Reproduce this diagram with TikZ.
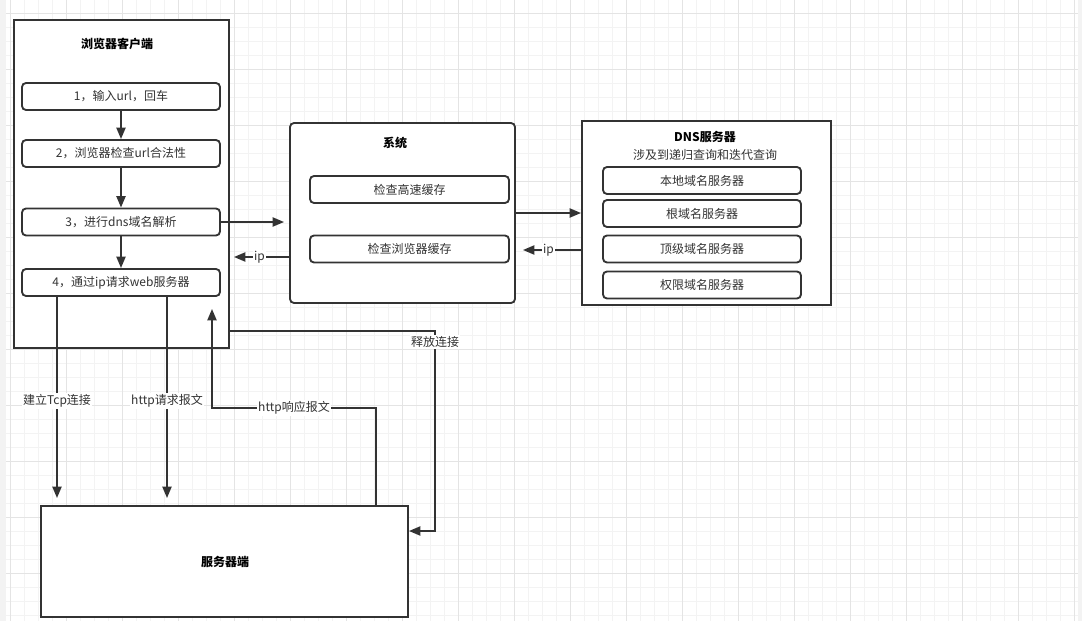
\documentclass[tikz,border=0pt]{standalone}
\usepackage{fontspec}
\setmainfont{Noto Sans CJK SC}
\usetikzlibrary{arrows.meta}
\definecolor{ln}{HTML}{333333}
\definecolor{gridminor}{HTML}{F3F3F3}
\definecolor{gridmajor}{HTML}{E4E4E4}

\begin{document}
\begin{tikzpicture}[x=0.75pt,y=-0.75pt,
  every node/.style={font=\fontsize{9pt}{11pt}\selectfont,text=ln},
  frame/.style={draw=ln,line width=1.4pt,fill=white,inner sep=0pt},
  stepbox/.style={frame,rounded corners=3pt,minimum width=148.5pt,minimum height=20.25pt},
  ttl/.style={font=\fontsize{9pt}{11pt}\selectfont\bfseries,text=black},
  lbl/.style={fill=white,inner sep=1pt},
  arr/.style={draw=ln,line width=1.4pt,-{Triangle[length=8.5pt,width=6.75pt]}}]
\useasboundingbox (0,0) rectangle (1082,621);
\fill[white] (0,0) rectangle (1082,621);
% grid
\foreach \i in {0,...,76} \draw[gridminor,line width=0.75pt] ({10.7+14*\i},0) -- ++(0,621);
\foreach \i in {0,...,43} \draw[gridminor,line width=0.75pt] (0,{13.3+14*\i}) -- ++(1082,0);
\foreach \i in {0,...,19} \draw[gridmajor,line width=0.75pt] ({10.7+56*\i},0) -- ++(0,621);
\foreach \i in {0,...,11} \draw[gridmajor,line width=0.75pt] (0,{13.3+56*\i}) -- ++(1082,0);
\fill[gridminor] (0,0) rectangle (6,621);
\fill[gridminor] (1078,0) rectangle (1082,621);

% browser
\node[frame,minimum width=161.25pt,minimum height=246pt] (browser) at (121.5,184) {};
\node[ttl] (browsertitle) at (117,44) {浏览器客户端};
\node[stepbox] (s1) at (121,96.5) {1，输入url，回车};
\node[stepbox] (s2) at (121,153.5) {2，浏览器检查url合法性};
\node[stepbox] (s3) at (121,222) {3，进行dns域名解析};
\node[stepbox] (s4) at (121,282.5) {4，通过ip请求web服务器};

% system
\node[frame,rounded corners=3pt,minimum width=168.75pt,minimum height=135pt] (sys) at (402.5,213) {};
\node[ttl] (systitle) at (395,143) {系统};
\node[stepbox,minimum width=149.25pt] (cache1) at (409.5,189.5) {检查高速缓存};
\node[stepbox,minimum width=149.25pt] (cache2) at (409.5,249) {检查浏览器缓存};

% dns
\node[frame,minimum width=186.75pt,minimum height=138pt] (dns) at (706.5,213) {};
\node[ttl] (dnstitle) at (705,137) {DNS服务器};
\node (dnssub) at (705,155) {涉及到递归查询和迭代查询};
\node[stepbox] (d1) at (702,180.5) {本地域名服务器};
\node[stepbox] (d2) at (702,213.5) {根域名服务器};
\node[stepbox] (d3) at (702,249) {顶级域名服务器};
\node[stepbox] (d4) at (702,285) {权限域名服务器};

% server
\node[frame,minimum width=275.25pt,minimum height=83.25pt] (server) at (224.5,561.5) {};
\node[ttl] (servertitle) at (225,562) {服务器端};

\draw[arr] (s1) -- (s2);
\draw[arr] (s2) -- (s3);
\draw[arr] (s3) -- (s4);
\draw[arr,shorten >=3.75pt] (s3.east) -- (s3.east -| sys.west);
\draw[arr,shorten >=3pt] (sys.west |- 0,257) -- node[lbl]{ip} (browser.east |- 0,257);
\draw[arr] (sys.east) -- (dns.west);
\draw[arr,shorten >=5.25pt] (dns.west |- 0,250) -- node[lbl]{ip} (sys.east |- 0,250);

\draw[arr,shorten >=5.25pt] (s4.south -| 57,0) -- node[lbl]{建立Tcp连接} (server.north -| 57,0);
\draw[arr,shorten >=5.25pt] (s4.south -| 167,0) -- node[lbl]{http请求报文} (server.north -| 167,0);
\draw[arr,shorten >=9pt] (server.north -| 376,0) -- (376,408) -- node[lbl]{http响应报文} (212,408) -- (s4.south -| 212,0);
\draw[arr] (browser.east |- 0,331) -- (435,331) -- node[lbl,pos=0.055]{释放连接} (435,531) -- (server.east |- 0,531);
\end{tikzpicture}
\end{document}
